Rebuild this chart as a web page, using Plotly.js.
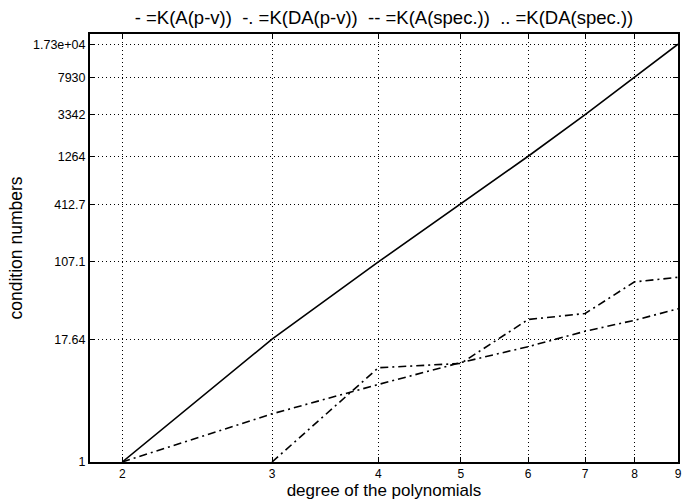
<!DOCTYPE html>
<html>
<head>
<meta charset="utf-8">
<script src="https://cdn.plot.ly/plotly-3.0.1.min.js"></script>
<style>html,body{margin:0;padding:0;background:#fff;}#chart{width:687px;height:501px;}</style>
</head>
<body>
<div id="chart"></div>
<script>
// Data
var degrees = [2, 3, 4, 5, 6, 7, 8, 9];
var kApv = [1, 17.64, 107.1, 412.7, 1264, 3342, 7930, 17300];
var kDApv = [1, 3.08, 6.12, 10.2, 14.8, 21.2, 27.4, 35.8];
var degreesB = [3, 4, 5, 6, 7, 8, 9];
var kSpec = [1, 9.04, 10.0, 27.9, 32.1, 67.2, 74.8];
var yTickVals = [1, 17.64, 107.1, 412.7, 1264, 3342, 7930, 17300];
var yTickText = ["1", "17.64", "107.1", "412.7", "1264", "3342", "7930", "1.73e+04"];
var xTickVals = [2, 3, 4, 5, 6, 7, 8, 9];
var xTickText = ["2", "3", "4", "5", "6", "7", "8", "9"];
var titleParts = ["- =K(A(p-v))", "-. =K(DA(p-v))", "-- =K(A(spec.))", ".. =K(DA(spec.))"];

var font = "Liberation Sans, Arial, Helvetica, sans-serif";
var dashdot = "8px,4px,2px,4px";
var titleText = titleParts.join("\u00A0 ");

var traces = [
  {x: degrees, y: kApv, mode: "lines", name: "K(A(p-v))",
   line: {color: "#000", width: 1.6, dash: "solid"}},
  {x: degrees, y: kDApv, mode: "lines", name: "K(DA(p-v))",
   line: {color: "#000", width: 1.6, dash: dashdot}},
  {x: degreesB, y: kSpec, mode: "lines", name: "K(spec.)",
   line: {color: "#000", width: 1.6, dash: dashdot}}
];

var layout = {
  width: 687, height: 501,
  margin: {l: 90, r: 9, t: 34, b: 39},
  paper_bgcolor: "#fff", plot_bgcolor: "#fff",
  showlegend: false,
  font: {family: font, color: "#000", size: 12.5},
  title: {text: titleText, font: {family: font, size: 18.5, color: "#000"},
          xref: "paper", x: 0.5, xanchor: "center", y: 0.966, yanchor: "middle"},
  xaxis: {
    type: "log", range: [Math.log10(1.833), Math.log10(9)],
    tickvals: xTickVals, ticktext: xTickText,
    showgrid: true, gridcolor: "#000", gridwidth: 1, griddash: "1px,3px",
    zeroline: false, showline: true, linecolor: "#000", linewidth: 2, mirror: "ticks",
    ticks: "inside", ticklen: 5, tickcolor: "#000", ticklabelstandoff: 0,
    tickfont: {family: font, size: 12, color: "#000"},
    title: {text: "degree of the polynomials", font: {family: font, size: 17, color: "#000"}, standoff: 4}
  },
  yaxis: {
    type: "log", range: [0, 4.342],
    tickvals: yTickVals, ticktext: yTickText,
    showgrid: true, gridcolor: "#000", gridwidth: 1, griddash: "1px,3px",
    zeroline: false, showline: true, linecolor: "#000", linewidth: 2, mirror: "ticks",
    ticks: "inside", ticklen: 5, tickcolor: "#000",
    tickfont: {family: font, size: 12.5, color: "#000"},
    title: {text: "condition numbers", font: {family: font, size: 17.5, color: "#000"}, standoff: 6}
  }
};

Plotly.newPlot("chart", traces, layout, {displayModeBar: false, staticPlot: true});
</script>
</body>
</html>
